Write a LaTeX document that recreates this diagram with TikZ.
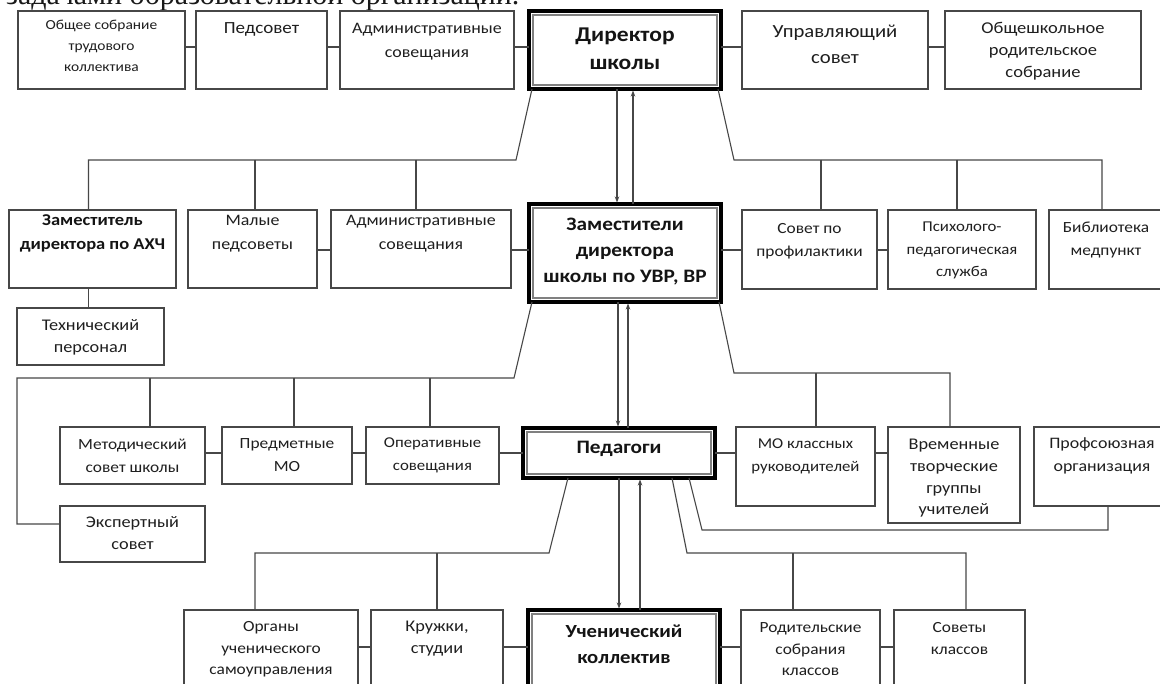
\documentclass[tikz,border=0pt]{standalone}
\usepackage{fontspec}
\setmainfont[FakeStretch=1.12]{Carlito}
\newfontfamily\serifont{Liberation Serif}
\usetikzlibrary{arrows.meta,calc}
\newcommand\mkbox[6]{\node[#1, minimum width={#5-#3}, minimum height={#6-#4}] (#2) at ({(#3+#5)/2},{(#4+#6)/2}) {};}
\newcommand\mkthick[5]{\node[tbx, minimum width={#4-#2-4}, minimum height={#5-#3-4}] (#1) at ({(#2+#4)/2},{(#3+#5)/2}) {};
  \draw[black!50, line width=1.1pt] ([shift={(4,4)}]#1.north west) rectangle ([shift={(-4,-4)}]#1.south east);}
\newcommand\drop[3]{\draw[ln] let \p1=($(#1.north)+(#2,0)$), \p2=(#3) in (\x1,\y2) -- (\p1);}
\begin{document}
\begin{tikzpicture}[x=1pt,y=-1pt,
  ln/.style={draw=black!72, line width=1.1pt},
  obx/.style={draw=black!72, line width=1.2pt, fill=white, inner sep=0pt, outer sep=0pt},
  tbx/.style={draw=black, line width=4pt, fill=white, inner sep=0pt, outer sep=0pt},
  lbl/.style={inner sep=0pt, align=center, text=black!88, font=\fontsize{15.5}{23}\selectfont},
  big/.style={lbl, font=\fontsize{16.3}{22}\selectfont},
  sml/.style={lbl, font=\fontsize{13.8}{21}\selectfont},
  bld/.style={lbl, text=black!92, font=\bfseries\fontsize{19}{26}\selectfont},
  arr/.style={ln, -{Stealth[length=6pt,width=4.5pt]}, shorten >=1.5pt}
]
\useasboundingbox (0,0) rectangle (1160,684);
\fill[white] (0,0) rectangle (1160,684);
\clip (0,0) rectangle (1160,684);

% cut-off line of the page text above the chart
\node[anchor=base west, inner sep=0pt, text=black!90, font=\serifont\fontsize{30}{30}\selectfont] (cap) at (6,4.5) {задачами образовательной организации.};

% bus levels
\coordinate (h1) at (0,47);
\coordinate (h2) at (0,250);
\coordinate (h3) at (0,453);
\coordinate (h4) at (0,647);

% ---- row 1
\mkbox{obx}{a1}{18}{11}{185}{89}
\mkbox{obx}{a2}{196}{11}{327}{89}
\mkbox{obx}{a3}{340}{11}{514}{89}
\mkthick{dir}{527}{9}{723}{91}
\mkbox{obx}{a5}{742}{11}{928}{89}
\mkbox{obx}{a6}{945}{11}{1141}{89}

% ---- row 2
\mkbox{obx}{b1}{9}{210}{176}{288}
\mkbox{obx}{b2}{188}{210}{317}{288}
\mkbox{obx}{b3}{331}{210}{511}{288}
\mkthick{dep}{527}{202}{723}{304}
\mkbox{obx}{b5}{742}{210}{877}{289}
\mkbox{obx}{b6}{888}{210}{1036}{289}
\mkbox{obx}{b7}{1049}{210}{1163}{289}
\mkbox{obx}{tech}{17}{308}{164}{365}

% ---- row 3
\mkbox{obx}{c1}{60}{427}{205}{484}
\mkbox{obx}{c2}{222}{427}{352}{484}
\mkbox{obx}{c3}{366}{427}{499}{484}
\mkthick{ped}{521}{426}{717}{480}
\mkbox{obx}{c5}{736}{427}{875}{506}
\mkbox{obx}{c6}{888}{427}{1020}{523}
\mkbox{obx}{c7}{1034}{427}{1170}{506}
\mkbox{obx}{exp}{60}{506}{205}{562}

% ---- row 4
\mkbox{obx}{d1}{184}{610}{358}{700}
\mkbox{obx}{d2}{371}{610}{503}{700}
\mkthick{stu}{526}{608}{722}{700}
\mkbox{obx}{d4}{741}{610}{880}{700}
\mkbox{obx}{d5}{894}{610}{1025}{700}

% ---- texts
\node[sml] (ta1) at (101.5,46) {Общее собрание\\трудового\\коллектива};
\node[lbl, font=\fontsize{17}{23}\selectfont] (ta2) at (261.5,29) {Педсовет};
\node[lbl, font=\fontsize{16}{24}\selectfont] (ta3) at (427,42) {Административные\\совещания};
\node[bld, font=\bfseries\fontsize{21}{28}\selectfont] (tdir) at (625,49) {Директор\\школы};
\node[lbl, font=\fontsize{18.5}{26}\selectfont] (ta5) at (835,44) {Управляющий\\совет};
\node[lbl, font=\fontsize{16.5}{22}\selectfont] (ta6) at (1043,51) {Общешкольное\\родительское\\собрание};

\node[bld, font=\bfseries\fontsize{16.5}{24}\selectfont] (tb1) at (92.5,233) {Заместитель\\директора по АХЧ};
\node[lbl, font=\fontsize{16}{24}\selectfont] (tb2) at (252.5,234) {Малые\\педсоветы};
\node[lbl, font=\fontsize{16}{24}\selectfont] (tb3) at (421,234) {Административные\\совещания};
\node[bld] (tdep) at (625,252) {Заместители\\директора\\школы по УВР, ВР};
\node[lbl] (tb5) at (809.5,241) {Совет по\\профилактики};
\node[lbl, font=\fontsize{15}{22.5}\selectfont] (tb6) at (962,250.5) {Психолого-\\педагогическая\\служба};
\node[lbl] (tb7) at (1106,240) {Библиотека\\медпункт};
\node[big] (ttech) at (90.5,337.5) {Технический\\персонал};

\node[lbl] (tc1) at (132.5,455.5) {Методический\\совет школы};
\node[lbl] (tc2) at (287,455.5) {Предметные\\МО};
\node[lbl, font=\fontsize{15}{23}\selectfont] (tc3) at (432.5,455.5) {Оперативные\\совещания};
\node[bld] (tped) at (619,449) {Педагоги};
\node[lbl, font=\fontsize{15}{23}\selectfont] (tc5) at (805.5,456) {МО классных\\руководителей};
\node[big, font=\fontsize{16.3}{21.7}\selectfont] (tc6) at (954,478.5) {Временные\\творческие\\группы\\учителей};
\node[lbl, font=\fontsize{16}{23}\selectfont] (tc7) at (1102,456) {Профсоюзная\\организация};
\node[big] (texp) at (132.5,533.5) {Экспертный\\совет};

\node[lbl, font=\fontsize{15.5}{21.5}\selectfont] (td1) at (271,649.5) {Органы\\ученического\\самоуправления};
\node[big, font=\fontsize{16.3}{21.5}\selectfont] (td2) at (437,638.5) {Кружки,\\студии};
\node[bld, font=\bfseries\fontsize{18.5}{26}\selectfont] (tstu) at (624,644) {Ученический\\коллектив};
\node[lbl, font=\fontsize{15.5}{21.5}\selectfont] (td4) at (810.5,649.5) {Родительские\\собрания\\классов};
\node[lbl, font=\fontsize{15.5}{21.5}\selectfont] (td5) at (959.5,638.5) {Советы\\классов};

% ---- horizontal links
\draw[ln] (a1.east |- h1) -- (a2.west |- h1);
\draw[ln] (a2.east |- h1) -- (a3.west |- h1);
\draw[ln] (a3.east |- h1) -- (dir.west |- h1);
\draw[ln] (dir.east |- h1) -- (a5.west |- h1);
\draw[ln] (a5.east |- h1) -- (a6.west |- h1);

\draw[ln] (b2.east |- h2) -- (b3.west |- h2);
\draw[ln] (b3.east |- h2) -- (dep.west |- h2);
\draw[ln] (dep.east |- h2) -- (b5.west |- h2);
\draw[ln] (b5.east |- h2) -- (b6.west |- h2);
\draw[ln] (b1.south) ++(-4,0) coordinate (bt) (bt) -- (bt |- tech.north);

\draw[ln] (c1.east |- h3) -- (c2.west |- h3);
\draw[ln] (c2.east |- h3) -- (c3.west |- h3);
\draw[ln] (c3.east |- h3) -- (ped.west |- h3);
\draw[ln] (ped.east |- h3) -- (c5.west |- h3);
\draw[ln] (c5.east |- h3) -- (c6.west |- h3);

\draw[ln] (d1.east |- h4) -- (d2.west |- h4);
\draw[ln] (d2.east |- h4) -- (stu.west |- h4);
\draw[ln] (stu.east |- h4) -- (d4.west |- h4);
\draw[ln] (d4.east |- h4) -- (d5.west |- h4);

% ---- director buses
\coordinate (dl) at (516,160);
\coordinate (dr) at (734,160);
\draw[ln] let \p1=($(b1.north)+(-4,0)$), \p2=(dl) in ([xshift=3]dir.south west) -- (dl) -- (\x1,\y2) -- (\p1);
\drop{b2}{2.5}{dl}
\drop{b3}{-5}{dl}
\draw[ln] let \p1=($(b7.north)+(-4,0)$), \p2=(dr) in ([xshift=-3]dir.south east) -- (dr) -- (\x1,\y2) -- (\p1);
\drop{b5}{11.5}{dr}
\drop{b6}{-5}{dr}

% ---- deputies buses
\coordinate (pl) at (514,378);
\coordinate (pc) at (17,378);
\coordinate (pr) at (734,373);
\draw[ln] let \p1=($(exp.west)+(0,-10)$), \p2=(pc) in ([xshift=3]dep.south west) -- (pl) -- (pc) -- (\x2,\y1) -- (\p1);
\drop{c1}{17.5}{pl}
\drop{c2}{7}{pl}
\drop{c3}{-2.5}{pl}
\draw[ln] let \p1=($(c6.north)+(-4,0)$), \p2=(pr) in ([xshift=-2]dep.south east) -- (pr) -- (\x1,\y2) -- (\p1);
\drop{c5}{10.5}{pr}

% ---- pedagogues buses
\coordinate (el) at (549,553);
\coordinate (er) at (687,553);
\coordinate (eq) at (702,530);
\draw[ln] let \p1=($(d1.north)+(-16,0)$), \p2=(el) in ([xshift=-51]ped.south) -- (el) -- (\x1,\y2) -- (\p1);
\drop{d2}{0}{el}
\draw[ln] let \p1=($(d5.north)+(6.5,0)$), \p2=(er) in ([xshift=53]ped.south) -- (er) -- (\x1,\y2) -- (\p1);
\drop{d4}{-17.5}{er}
\draw[ln] let \p1=($(c7.south)+(6,0)$), \p2=(eq) in ([xshift=70]ped.south) -- (eq) -- (\x1,\y2) -- (\p1);

% ---- two-way arrows
\draw[arr] let \p1=([xshift=-8]dir.south), \p2=(dep.north) in (\p1) -- (\x1,\y2);
\draw[arr] let \p1=([xshift=8]dep.north), \p2=(dir.south) in (\p1) -- (\x1,\y2);
\draw[arr] let \p1=([xshift=-7]dep.south), \p2=(ped.north) in (\p1) -- (\x1,\y2);
\draw[arr] let \p1=([xshift=9]ped.north), \p2=(dep.south) in (\p1) -- (\x1,\y2);
\draw[arr] let \p1=([xshift=0]ped.south), \p2=(stu.north) in (\p1) -- (\x1,\y2);
\draw[arr] let \p1=([xshift=16]stu.north), \p2=(ped.south) in (\p1) -- (\x1,\y2);
\end{tikzpicture}
\end{document}
